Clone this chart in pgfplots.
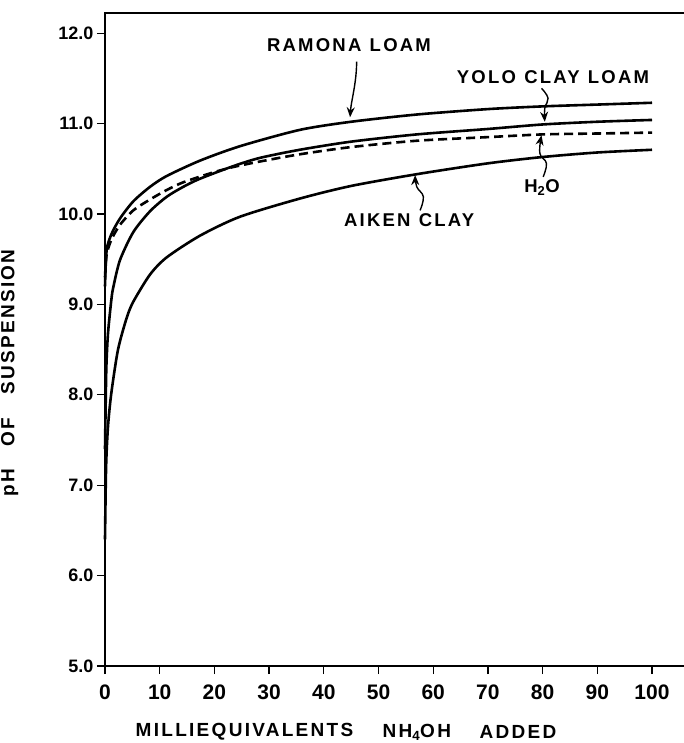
\documentclass[border=0pt]{standalone}
\usepackage{fontspec}
\setmainfont{Liberation Sans}
\newfontfamily\lettering[LetterSpace=12]{Liberation Sans}
\usepackage{pgfplots}
\pgfplotsset{compat=1.18}
\usetikzlibrary{calc,arrows.meta}

% pH of soil suspensions titrated with ammonium hydroxide
\pgfplotstableread{
x     ph
0     9.20
0.3   9.60
1.2   9.78
2.74  9.95
5.18  10.14
8.23  10.30
11.28 10.42
17.37 10.59
24.7  10.75
35.6  10.93
45    11.02
57    11.10
70    11.16
80    11.19
90    11.21
100   11.23
}\ramona
\pgfplotstableread{
x     ph
0     7.40
0.1   7.80
0.25  8.31
0.55  8.68
1.16  9.05
1.52  9.19
2.74  9.49
5.18  9.80
8.23  10.03
11.28 10.19
14.3  10.30
17.37 10.39
23.5  10.53
28.3  10.62
35.6  10.71
45    10.80
57    10.88
70    10.94
80    10.99
90    11.02
100   11.04
}\yolo
\pgfplotstableread{
x     ph
0     9.30
0.3   9.55
1.2   9.72
2.74  9.88
5.18  10.04
8.23  10.16
11.28 10.265
14.3  10.35
19.8  10.46
23.5  10.52
28.3  10.58
35.6  10.66
45    10.74
57    10.81
70    10.85
80    10.88
90    10.89
100   10.90
}\water
\pgfplotstableread{
x     ph
0     6.40
0.2   7.20
0.55  7.65
1.16  8.02
2.38  8.50
3.96  8.85
5.18  9.03
8.23  9.33
11.28 9.52
17.37 9.76
24.7  9.97
35.6  10.17
45    10.31
57    10.44
70    10.56
80    10.63
90    10.68
100   10.71
}\aiken

\begin{document}
\begin{tikzpicture}
\begin{axis}[
  scale only axis, width=585.3pt, height=653pt,
  xmin=0, xmax=107, ymin=5, ymax=12.223,
  xtick={0,10,...,100}, ytick={5,6,...,12},
  tick pos=left, tick align=outside, major tick length=8pt,
  axis line style={line width=1.3pt},
  every tick/.style={line width=1.3pt, black},
  clip=false,
  /pgf/number format/assume math mode=true,
  xticklabel style={font=\fontsize{21}{21}\selectfont\bfseries, yshift=-7pt},
  yticklabel style={font=\fontsize{18}{18}\selectfont\bfseries},
  yticklabel={\pgfmathprintnumber[fixed, fixed zerofill, precision=1]{\tick}},
]
\pgfplotsset{soil/.style={black, line width=2.6pt, no markers, smooth, tension=0.45}}
\addplot[soil] table[x=x, y=ph] {\ramona};
\addplot[soil] table[x=x, y=ph] {\yolo};
\addplot[soil, dash pattern=on 9pt off 5pt] table[x=x, y=ph] {\water};
\addplot[soil] table[x=x, y=ph] {\aiken};

\coordinate (O) at (axis cs:0,5);

% curve labels and pointers
\begin{scope}[every node/.style={font=\lettering\fontsize{18.5}{18.5}\selectfont\bfseries, inner sep=0pt}]
\node at (axis cs:44.6,11.87) {RAMONA\hspace{0.45em}LOAM};
\node at (axis cs:81.9,11.51) {YOLO\hspace{0.45em}CLAY\hspace{0.45em}LOAM};
\node at (axis cs:55.6,9.93) {AIKEN\hspace{0.45em}CLAY};
\node at (axis cs:79.9,10.29) {H\textsubscript{2}O};
\end{scope}
\begin{scope}[line width=1.4pt, -{Stealth[length=10pt,width=8pt]}]
\draw (axis cs:46.0,11.685) .. controls (axis cs:46.0,11.45) and (axis cs:45.0,11.25) .. (axis cs:44.8,11.07);
\draw plot[smooth, tension=0.7] coordinates {(axis cs:79.8,11.39) (axis cs:81.0,11.28) (axis cs:80.4,11.17) (axis cs:80.4,11.02)};
\draw plot[smooth, tension=0.7] coordinates {(axis cs:80.1,10.41) (axis cs:80.7,10.56) (axis cs:79.5,10.67) (axis cs:79.8,10.87)};
\draw plot[smooth, tension=0.7] coordinates {(axis cs:57.6,10.04) (axis cs:58.2,10.19) (axis cs:57.0,10.30) (axis cs:56.7,10.43)};
\end{scope}

% axis titles
\begin{scope}[every node/.style={font=\lettering\fontsize{19}{19}\selectfont\bfseries, inner sep=0pt}]
\node at (axis cs:25.5,4.27) {MILLIEQUIVALENTS};
\node at (axis cs:57,4.27) {NH\textsubscript{4}OH};
\node at (axis cs:75.5,4.27) {ADDED};
\node[rotate=90] at (axis cs:-17.4,8.24) {pH\hspace{1.2em}OF\hspace{1.2em}SUSPENSION};
\end{scope}
\end{axis}
\pgfresetboundingbox
\path ($(O)+(-105pt,-77pt)$) rectangle ($(O)+(579pt,666pt)$);
\end{tikzpicture}
\end{document}
